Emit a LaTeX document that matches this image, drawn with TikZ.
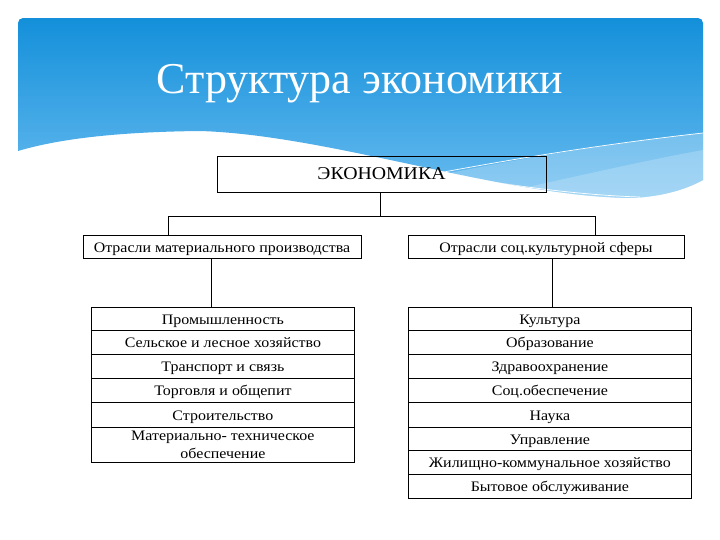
\documentclass[tikz,border=0pt]{standalone}
\usepackage{fontspec}
\setmainfont{Liberation Serif}
\newfontfamily\widefont[FakeStretch=1.1]{Liberation Serif}
\definecolor{bantop}{RGB}{20,144,218}
\definecolor{banbot}{RGB}{105,188,240}
\begin{document}
\begin{tikzpicture}[x=1pt,y=-1pt,
  box/.style={draw=black,line width=0.8pt,inner sep=0pt,font=\widefont\fontsize{14.5}{16}\selectfont,text=black,text height=12pt,text depth=1pt},
  cell/.style={box,anchor=north west},
  conn/.style={draw=black,line width=0.8pt},
  wave/.style={white,line width=0.7pt}]
\useasboundingbox (0,0) rectangle (720,540);
\fill[white] (0,0) rectangle (720,540);
% banner
\begin{scope}
  \clip (18,151) [rounded corners=5pt] -- (18,18) -- (703,18) [sharp corners] -- (703,180)
    .. controls (685,190) and (660,197) .. (630,198)
    .. controls (500,196) and (330,135) .. (200,131)
    .. controls (110,132) and (55,140) .. (18,151) -- cycle;
  \foreach \i in {0,...,60} {
    \pgfmathsetmacro{\pc}{100-\i*100/60}
    \fill[bantop!\pc!banbot] (0,{18+\i*3}) rectangle (720,{18+\i*3+3.3});
  }
  \fill[white,opacity=0.25] (300,205) .. controls (420,178) and (550,150) .. (703,133) -- (703,210) -- cycle;
  \fill[white,opacity=0.2] (420,210) .. controls (520,190) and (620,165) .. (703,150) -- (703,210) -- cycle;
  \draw[wave] (160,133) .. controls (300,138) and (480,192) .. (640,197);
  \draw[wave] (310,198) .. controls (420,176) and (550,150) .. (703,133);
\end{scope}
\node[text=white,font=\fontsize{44}{48}\selectfont] (title) at (360,84) {Структура экономики};
% top box
\node[box,minimum width=329pt,minimum height=36pt,font=\widefont\fontsize{18}{20}\selectfont,text height=12pt,text depth=0pt] (eco) at (381.5,174) {ЭКОНОМИКА};
\node[box,minimum width=278pt,minimum height=23pt] (mat) at (222,246.5) {Отрасли материального производства};
\node[box,minimum width=276pt,minimum height=23pt] (soc) at (546,246.5) {Отрасли соц.культурной сферы};
\coordinate (jl) at (168,216);
\coordinate (jr) at (595,216);
\coordinate (cl) at (211,0);
\coordinate (cr) at (552,0);
\draw[conn] (eco.south -| 380,0) -- (jl -| 380,0);
\draw[conn] (mat.north -| jl) -- (jl) -- (jr) -- (soc.north -| jr);
% left table
\node[cell,minimum width=263pt,minimum height=23pt] (l1) at (91,307) {Промышленность};
\node[cell,minimum width=263pt,minimum height=24pt] (l2) at (91,330) {Сельское и лесное хозяйство};
\node[cell,minimum width=263pt,minimum height=24pt] (l3) at (91,354) {Транспорт и связь};
\node[cell,minimum width=263pt,minimum height=24pt] (l4) at (91,378) {Торговля и общепит};
\node[cell,minimum width=263pt,minimum height=25pt] (l5) at (91,402) {Строительство};
\node[cell,minimum width=263pt,minimum height=35pt,align=center,text height=,text depth=,font=\widefont\fontsize{14.5}{18.5}\selectfont] (l6) at (91,427) {Материально- техническое\\обеспечение};
% right table
\node[cell,minimum width=283pt,minimum height=23pt] (r1) at (408,307) {Культура};
\node[cell,minimum width=283pt,minimum height=24pt] (r2) at (408,330) {Образование};
\node[cell,minimum width=283pt,minimum height=24pt] (r3) at (408,354) {Здравоохранение};
\node[cell,minimum width=283pt,minimum height=24pt] (r4) at (408,378) {Соц.обеспечение};
\node[cell,minimum width=283pt,minimum height=25pt] (r5) at (408,402) {Наука};
\node[cell,minimum width=283pt,minimum height=23pt] (r6) at (408,427) {Управление};
\node[cell,minimum width=283pt,minimum height=24pt] (r7) at (408,450) {Жилищно-коммунальное хозяйство};
\node[cell,minimum width=283pt,minimum height=24pt] (r8) at (408,474) {Бытовое обслуживание};
\draw[conn] (mat.south -| cl) -- (l1.north -| cl);
\draw[conn] (soc.south -| cr) -- (r1.north -| cr);
\end{tikzpicture}
\end{document}
